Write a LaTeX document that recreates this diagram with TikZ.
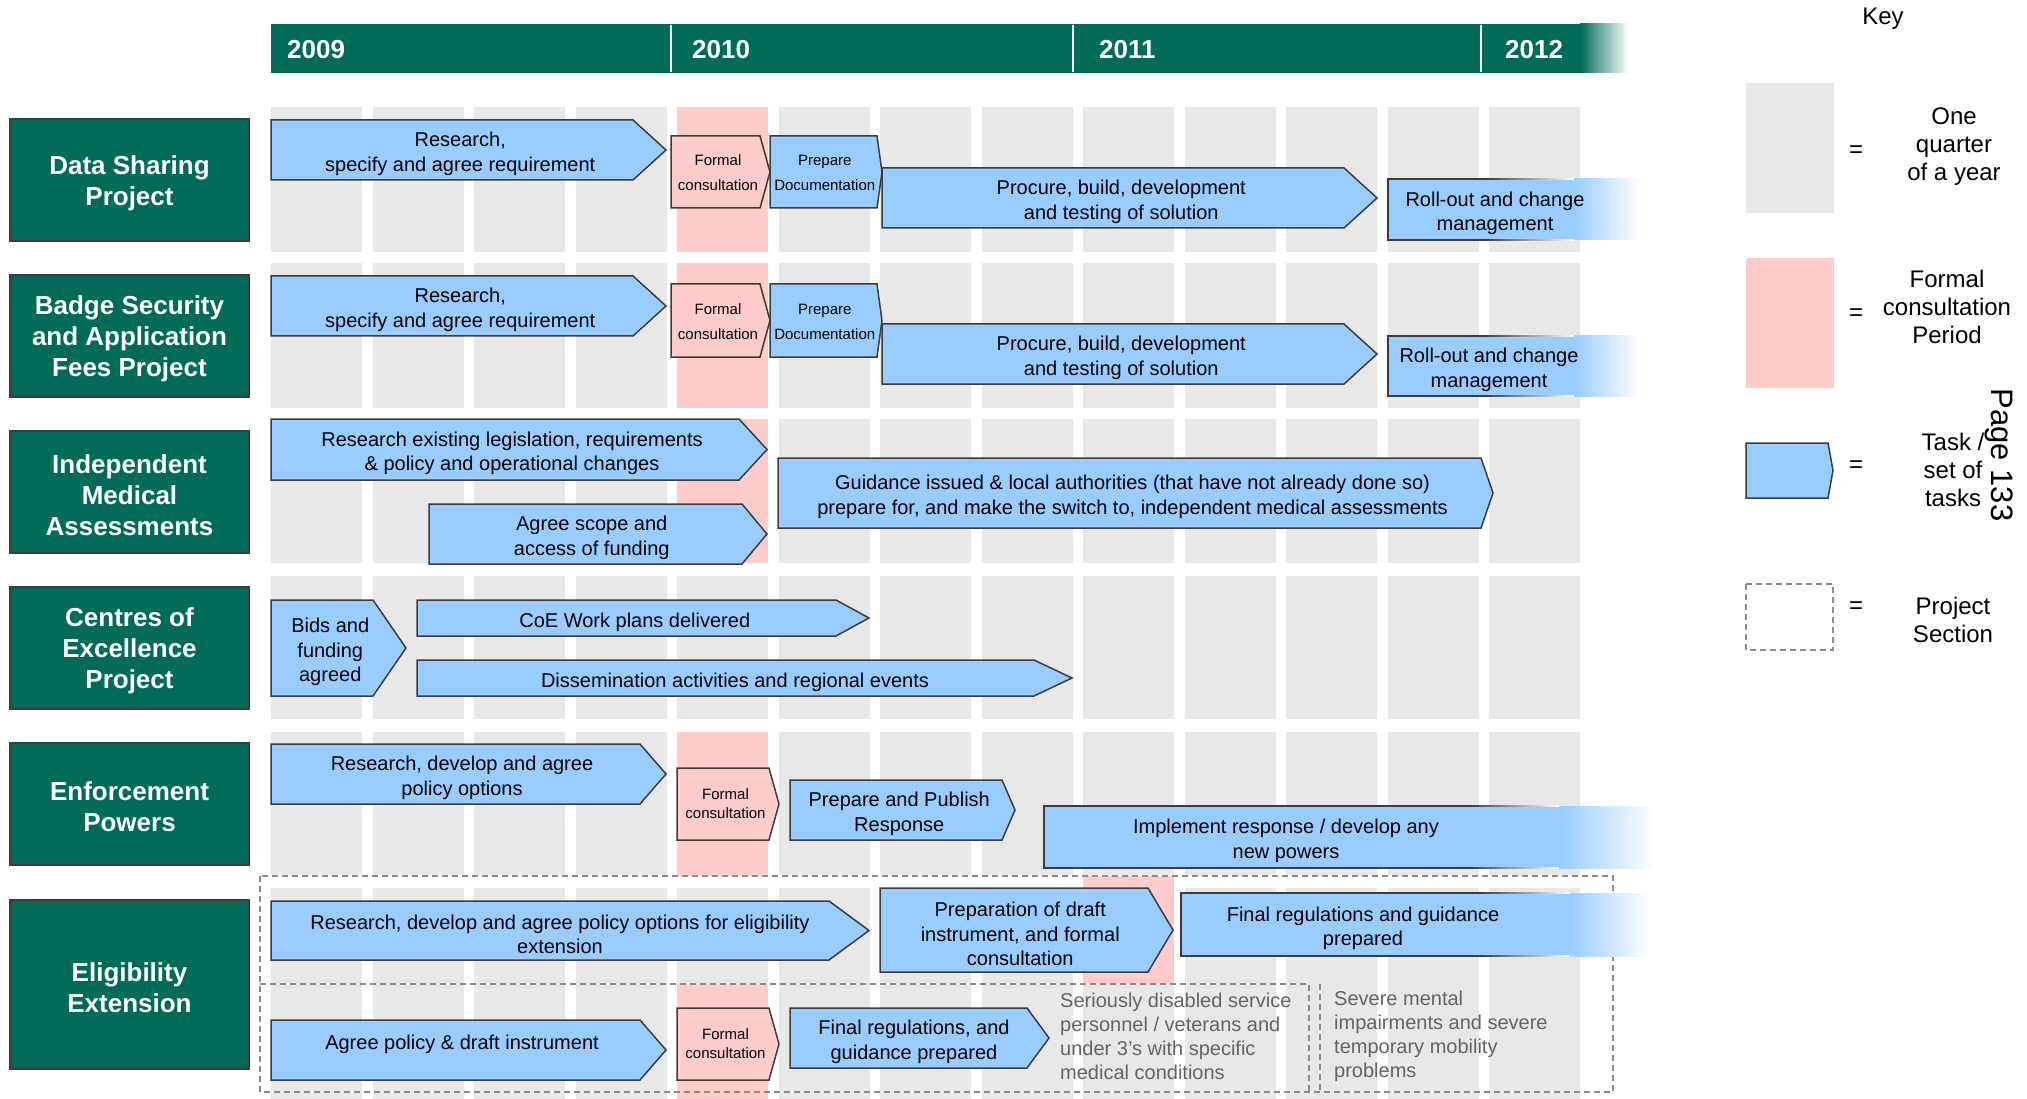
\documentclass[tikz,border=0pt]{standalone}
\usepackage{fontspec}
\setmainfont{Liberation Sans}
\definecolor{hdrgreen}{RGB}{0,107,86}
\definecolor{taskblue}{RGB}{153,204,255}
\definecolor{cpink}{RGB}{255,204,204}
\definecolor{cgray}{RGB}{232,232,232}
\definecolor{edgec}{RGB}{60,60,60}
\definecolor{notegray}{RGB}{100,100,100}
\definecolor{dashgray}{RGB}{140,140,140}
\tikzset{
  taskpath/.style={draw=edgec, line width=1.5pt, fill=taskblue, line join=miter},
  conspath/.style={draw=edgec, line width=1.5pt, fill=cpink, line join=miter},
  tasktxt/.style={font=\fontsize{20}{24.5}\selectfont, align=center, text=black, inner sep=0pt, yshift=-4pt},
  smalltxt/.style={font=\fontsize{15}{25}\selectfont, align=center, text=black, inner sep=0pt, yshift=-1pt},
  smalltxtb/.style={font=\fontsize{15}{19}\selectfont, align=center, text=black, inner sep=0pt},
  lbl/.style={draw=edgec, line width=2pt, fill=hdrgreen, text=white, font=\fontsize{26}{31}\selectfont\bfseries, align=center, minimum width=239pt, inner sep=0pt},
  lbltxt/.style={text=white, font=\fontsize{26}{31}\selectfont\bfseries, align=center, inner sep=0pt, yshift=-3pt},
  yr/.style={text=white, font=\fontsize{26}{30}\selectfont\bfseries, anchor=west, inner sep=0pt},
  graynote/.style={text=notegray, font=\fontsize{20}{24}\selectfont, align=left, anchor=west, inner sep=0pt},
  keytxt/.style={font=\fontsize{24}{28}\selectfont, align=center, inner sep=0pt},
  sectbox/.style={draw=dashgray, line width=1.3pt, dash pattern=on 6pt off 4pt},
}
% #1 path style, #2 node options, #3 x0, #4 top, #5 shoulder x, #6 tip x, #7 bottom, #8 text
\newcommand{\tbox}[8]{%
  \draw[#1] (#3,#4) -- (#5,#4) -- (#6,{(#4+#7)/2}) -- (#5,#7) -- (#3,#7) -- cycle;
  \node[#2] at ({(#3+(#5+#6)/2)/2},{(#4+#7)/2}) {#8};
}
% #1 name, #2 x0, #3 top, #4 bottom, #5 solid end, #6 fade end, #7 text x, #8 text
\newcommand{\fadetask}[8]{%
  \fill[taskblue] (#2,#3) rectangle (#5,#4);
  \shade[left color=taskblue, right color=white] (#5,#3) rectangle (#6,#4);
  \draw[edgec, line width=1.5pt] ({#5-90},#3) -- (#2,#3) -- (#2,#4) -- ({#5-90},#4);
  \shade[left color=edgec, right color=white] ({#5-90},{#3-0.75}) rectangle (#5,{#3+0.75});
  \shade[left color=edgec, right color=white] ({#5-90},{#4-0.75}) rectangle (#5,{#4+0.75});
  \node[tasktxt, name=#1] at (#7,{(#3+#4)/2}) {#8};
}
% #1 name, #2 centre y, #3 height, #4 text
\newcommand{\rowlabel}[4]{%
  \node[lbl, minimum height=#3pt] (#1) at (129.5,#2) {};
  \node[lbltxt] (#1t) at (129.5,#2) {#4};
}
\begin{document}
\begin{tikzpicture}[x=1pt,y=-1pt]
\useasboundingbox (0,0) rectangle (2027,1099);
% header
\fill[hdrgreen] (271,24) rectangle (1580,73);
\shade[left color=hdrgreen, right color=white] (1580,24) rectangle (1628,73);
\foreach \sx in {671,1073,1481} {\draw[white, line width=1.5pt] (\sx,25) -- (\sx,72);}
\node[yr] (y2009) at (287,49.5) {2009};
\node[yr] (y2010) at (692,49.5) {2010};
\node[yr] (y2011) at (1099,49.5) {2011};
\node[yr] (y2012) at (1505,49.5) {2012};
% quarter columns
\foreach \t/\b in {107/252, 263/408, 419/563, 576/719, 732/875, 888/1099} {
  \foreach \i in {0,...,12} {
    \fill[cgray] ({271+101.5*\i},\t) rectangle ({362+101.5*\i},\b);
  }
}
% consultation periods
\fill[cpink] (677,107) rectangle (768,252);
\fill[cpink] (677,263) rectangle (768,408);
\fill[cpink] (677,419) rectangle (768,563);
\fill[cpink] (677,732) rectangle (768,876);
\fill[cpink] (677,984) rectangle (768,1099);
\fill[cpink] (1083,876) rectangle (1174,983);
% project sections
\draw[sectbox] (260,876) rectangle (1613,1092);
\draw[sectbox] (260,984) -- (1309,984) -- (1309,1092);
\draw[sectbox] (1320,984) -- (1320,1092);
% row labels
\rowlabel{lab1}{180}{122}{Data Sharing\\Project}
\rowlabel{lab2}{336}{122}{Badge Security\\and Application\\Fees Project}
\rowlabel{lab3}{492}{122}{Independent\\Medical\\Assessments}
\rowlabel{lab4}{648}{122}{Centres of\\Excellence\\Project}
\rowlabel{lab5}{804}{122}{Enforcement\\Powers}
\rowlabel{lab6}{984.5}{169}{Eligibility\\Extension}
% row 1
\tbox{taskpath}{tasktxt, name=r1a}{271}{120}{633}{666}{180}{Research,\\specify and agree requirement}
\tbox{conspath}{smalltxt, name=r1b}{671}{136}{760}{770}{208}{Formal\\consultation}
\tbox{taskpath}{smalltxt, name=r1c}{770}{136}{877}{882}{208}{Prepare\\Documentation}
\tbox{taskpath}{tasktxt, name=r1d}{882}{168}{1344}{1377}{228}{Procure, build, development\\and testing of solution}
\fadetask{r1e}{1388}{179}{240}{1574}{1640}{1495}{Roll-out and change\\management}
% row 2
\tbox{taskpath}{tasktxt, name=r2a}{271}{276}{633}{666}{336}{Research,\\specify and agree requirement}
\tbox{conspath}{smalltxt, name=r2b}{671}{284}{760}{770}{357}{Formal\\consultation}
\tbox{taskpath}{smalltxt, name=r2c}{770}{284}{877}{882}{357}{Prepare\\Documentation}
\tbox{taskpath}{tasktxt, name=r2d}{882}{324}{1344}{1377}{384}{Procure, build, development\\and testing of solution}
\fadetask{r2e}{1388}{336}{396}{1574}{1640}{1489}{Roll-out and change\\management}
% row 3
\tbox{taskpath}{tasktxt, name=r3a}{271}{419}{739}{767}{480}{Research existing legislation, requirements\\\& policy and operational changes}
\tbox{taskpath}{tasktxt, name=r3b}{429}{504}{742}{767}{564}{Agree scope and\\access of funding}
\tbox{taskpath}{tasktxt, name=r3c}{778}{458}{1481}{1493}{528}{Guidance issued \& local authorities (that have not already done so)\\prepare for, and make the switch to, independent medical assessments}
% row 4
\tbox{taskpath}{tasktxt, name=r4a}{271}{600}{373}{406}{696}{Bids and\\funding\\agreed}
\tbox{taskpath}{tasktxt, name=r4b}{417}{600}{836}{869}{636}{CoE Work plans delivered}
\tbox{taskpath}{tasktxt, name=r4c}{417}{660}{1034}{1072}{696}{Dissemination activities and regional events}
% row 5
\tbox{taskpath}{tasktxt, name=r5a}{271}{744}{640}{666}{804}{Research, develop and agree\\policy options}
\tbox{conspath}{smalltxtb, name=r5b}{677}{768}{769}{779}{840}{Formal\\consultation}
\tbox{taskpath}{tasktxt, name=r5c}{790}{780}{1002}{1015}{840}{Prepare and Publish\\Response}
\fadetask{r5d}{1044}{806}{868}{1559}{1655}{1286}{Implement response / develop any\\new powers}
% row 6
\tbox{taskpath}{tasktxt, name=r6a}{271}{901}{829}{869}{960}{Research, develop and agree policy options for eligibility\\extension}
\tbox{taskpath}{tasktxt, name=r6b}{880}{888}{1148}{1173}{972}{Preparation of draft\\instrument, and formal\\consultation}
\fadetask{r6c}{1181}{893}{956}{1570}{1650}{1363}{Final regulations and guidance\\prepared}
\tbox{taskpath}{tasktxt, yshift=10pt, name=r6d}{271}{1020}{640}{666}{1080}{Agree policy \& draft instrument}
\tbox{conspath}{smalltxtb, name=r6e}{677}{1008}{769}{779}{1080}{Formal\\consultation}
\tbox{taskpath}{tasktxt, name=r6f}{790}{1008}{1027}{1049}{1068}{Final regulations, and\\guidance prepared}
\node[graynote] (n1) at (1060,1036) {Seriously disabled service\\personnel / veterans and\\under 3's with specific\\medical conditions};
\node[graynote] (n2) at (1334,1036) {Severe mental\\impairments and severe\\temporary mobility\\problems};
% key
\node[keytxt] (keyh) at (1883,19) {Key};
\fill[cgray] (1746,83) rectangle (1834,213);
\fill[cpink] (1746,258) rectangle (1834,388);
\draw[taskpath] (1746,443) -- (1828,443) -- (1833,470.5) -- (1828,498) -- (1746,498) -- cycle;
\draw[sectbox] (1746,584) rectangle (1833,650);
\node[keytxt] (eq1) at (1856,152) {=};
\node[keytxt] (eq2) at (1856,315) {=};
\node[keytxt] (eq3) at (1856,467) {=};
\node[keytxt] (eq4) at (1856,608) {=};
\node[keytxt] (k1) at (1954,147) {One\\quarter\\of a year};
\node[keytxt] (k2) at (1947,307) {Formal\\consultation\\Period};
\node[keytxt] (k3) at (1953,470) {Task /\\set of\\tasks};
\node[keytxt] (k4) at (1953,620) {Project\\Section};
\node[rotate=-90, font=\fontsize{31}{31}\selectfont, inner sep=0pt] (pg) at (1999,455) {Page 133};
\end{tikzpicture}
\end{document}
